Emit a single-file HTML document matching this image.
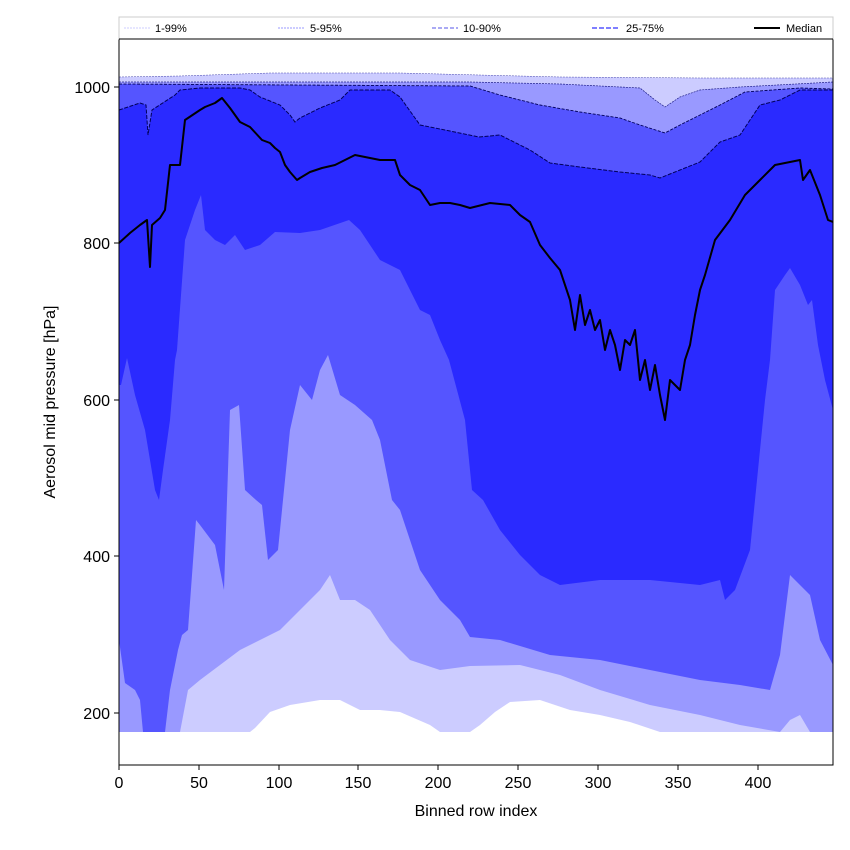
<!DOCTYPE html>
<html><head><meta charset="utf-8"><style>
body{margin:0;background:#fff;}
svg{display:block;font-family:"Liberation Sans","DejaVu Sans",sans-serif;}
</style></head><body>
<svg width="850" height="850" viewBox="0 0 850 850" xmlns="http://www.w3.org/2000/svg">
<rect width="850" height="850" fill="#fff"/>
<defs><clipPath id="c"><rect x="119" y="39" width="714" height="726"/></clipPath></defs>
<g clip-path="url(#c)">
<polygon fill="#ccccff" points="119,77 180,76 270,73 400,73 479,75 560,77 700,78 833,78 833,732 660,732 630,722 600,715 570,710 540,700 510,702 495,712 480,725 470,732 440,732 430,725 400,712 380,710 360,710 340,700 320,700 290,705 270,712 255,728 250,732 119,732"/>
<polygon fill="#9999ff" points="119,82 470,82 560,84 640,88 655,100 665,107 680,97 700,90 740,87 833,82 833,732 810,732 800,715 790,720 780,732 740,725 700,715 650,705 600,690 560,675 520,665 470,666 440,670 410,660 390,640 370,610 355,600 340,600 330,575 320,590 300,610 280,630 260,640 240,650 220,665 200,680 188,690 180,732 119,732"/>
<polygon fill="#5555ff" points="119,84 470,86 500,95 540,105 580,112 620,118 640,125 665,133 680,125 700,115 720,105 745,92 800,88 833,89 833,665 820,640 810,595 800,585 790,575 780,655 770,690 740,685 700,680 650,670 600,660 550,655 500,640 470,637 460,620 440,600 420,570 400,510 392,500 380,440 372,420 355,405 340,395 328,355 320,370 312,400 300,385 290,430 278,550 268,560 262,505 256,500 245,490 239,405 230,410 224,590 215,545 200,525 196,520 188,630 182,635 178,650 170,690 165,732 143,732 140,700 135,690 125,683 119,640"/>
<polygon fill="#2a2aff" points="119,110 140,103 146,105 148,135 152,110 155,108 175,95 180,90 200,88 240,88 250,90 260,97 280,105 290,115 295,122 300,118 320,108 340,100 350,90 390,90 400,97 420,125 445,130 479,137 500,135 530,150 550,163 580,167 620,172 650,175 660,178 680,170 700,162 720,142 740,135 750,120 760,105 780,100 800,90 833,90 833,410 825,380 818,345 812,300 808,305 800,285 790,268 785,275 775,290 770,360 765,400 760,450 750,550 735,590 725,600 720,580 700,585 650,580 600,580 560,585 540,575 520,555 500,530 483,500 472,490 465,420 449,360 440,340 430,315 420,310 400,270 380,260 370,245 360,230 349,220 320,230 300,233 275,232 260,245 245,250 235,235 225,245 215,240 205,230 201,195 195,210 185,240 177,350 175,360 170,420 163,470 159,500 155,490 145,430 135,395 127,358 121,385 119,385"/>
<polyline fill="none" stroke="#00005a" stroke-width="1" stroke-dasharray="4,1.5" points="119,110 140,103 146,105 148,135 152,110 155,108 175,95 180,90 200,88 240,88 250,90 260,97 280,105 290,115 295,122 300,118 320,108 340,100 350,90 390,90 400,97 420,125 445,130 479,137 500,135 530,150 550,163 580,167 620,172 650,175 660,178 680,170 700,162 720,142 740,135 750,120 760,105 780,100 800,90 833,90"/>
<polyline fill="none" stroke="#00005a" stroke-width="0.9" stroke-dasharray="3,1.5" points="119,84 470,86 500,95 540,105 580,112 620,118 640,125 665,133 680,125 700,115 720,105 745,92 800,88 833,89"/>
<polyline fill="none" stroke="#22228a" stroke-width="0.7" stroke-dasharray="2,1" points="119,82 470,82 560,84 640,88 655,100 665,107 680,97 700,90 740,87 833,82"/>
<polyline fill="none" stroke="#4444aa" stroke-width="0.5" stroke-dasharray="2,1" points="119,77 180,76 270,73 400,73 479,75 560,77 700,78 833,78"/>
<polyline fill="none" stroke="#000" stroke-width="2" stroke-linejoin="round" points="119,243 130,233 140,225 147,220 150,267 152,225 160,218 165,210 170,165 180,165 185,120 200,110 205,107 215,103 222,98 230,108 240,122 250,127 262,140 270,143 275,148 280,152 285,165 290,172 297,180 300,178 310,172 322,168 335,165 345,160 355,155 365,157 380,160 395,160 400,175 410,185 420,190 430,205 440,203 450,203 460,205 470,208 490,203 510,205 520,215 530,222 540,245 550,258 560,270 565,285 570,300 575,330 580,295 585,325 590,310 595,330 600,320 605,350 610,330 615,345 620,370 625,340 630,345 635,330 640,380 645,360 650,390 655,365 660,395 665,420 670,380 675,385 680,390 685,360 690,345 695,315 700,290 705,275 715,240 730,220 745,195 760,180 775,165 790,162 800,160 803,180 810,170 820,195 828,220 833,222"/>
</g>
<rect x="119" y="39" width="714" height="726" fill="none" stroke="#000" stroke-width="1"/>
<g stroke="#000" stroke-width="1">
<line x1="119" y1="765" x2="119" y2="770"/><line x1="199" y1="765" x2="199" y2="770"/><line x1="279" y1="765" x2="279" y2="770"/><line x1="358" y1="765" x2="358" y2="770"/><line x1="438" y1="765" x2="438" y2="770"/><line x1="518" y1="765" x2="518" y2="770"/><line x1="598" y1="765" x2="598" y2="770"/><line x1="678" y1="765" x2="678" y2="770"/><line x1="758" y1="765" x2="758" y2="770"/>
<line x1="114" y1="713" x2="119" y2="713"/><line x1="114" y1="556" x2="119" y2="556"/><line x1="114" y1="400" x2="119" y2="400"/><line x1="114" y1="243" x2="119" y2="243"/><line x1="114" y1="87" x2="119" y2="87"/>
</g>
<g font-size="16" fill="#000" text-anchor="middle">
<text x="119" y="788">0</text><text x="199" y="788">50</text><text x="279" y="788">100</text><text x="358" y="788">150</text><text x="438" y="788">200</text><text x="518" y="788">250</text><text x="598" y="788">300</text><text x="678" y="788">350</text><text x="758" y="788">400</text>
<text x="476" y="816">Binned row index</text>
</g>
<g font-size="16" fill="#000" text-anchor="end">
<text x="110" y="719">200</text><text x="110" y="562">400</text><text x="110" y="406">600</text><text x="110" y="249">800</text><text x="110" y="93">1000</text>
</g>
<text transform="translate(55,402) rotate(-90)" font-size="16" text-anchor="middle">Aerosol mid pressure [hPa]</text>
<rect x="119" y="17" width="714" height="22" fill="#fff" stroke="#ccc" stroke-width="1"/>
<line x1="119" y1="39" x2="833" y2="39" stroke="#000"/>
<g font-size="11" fill="#000">
<line x1="124" y1="28" x2="150" y2="28" stroke="#ccccff" stroke-width="1" stroke-dasharray="2,1"/><text x="155" y="32">1-99%</text>
<line x1="278" y1="28" x2="305" y2="28" stroke="#9999ff" stroke-width="1" stroke-dasharray="2,1"/><text x="310" y="32">5-95%</text>
<line x1="432" y1="28" x2="458" y2="28" stroke="#7777ee" stroke-width="1.2" stroke-dasharray="4,2"/><text x="463" y="32">10-90%</text>
<line x1="592" y1="28" x2="618" y2="28" stroke="#5555ff" stroke-width="1.5" stroke-dasharray="5,2"/><text x="626" y="32">25-75%</text>
<line x1="754" y1="28" x2="780" y2="28" stroke="#000" stroke-width="2"/><text x="786" y="32">Median</text>
</g>
</svg>
</body></html>
